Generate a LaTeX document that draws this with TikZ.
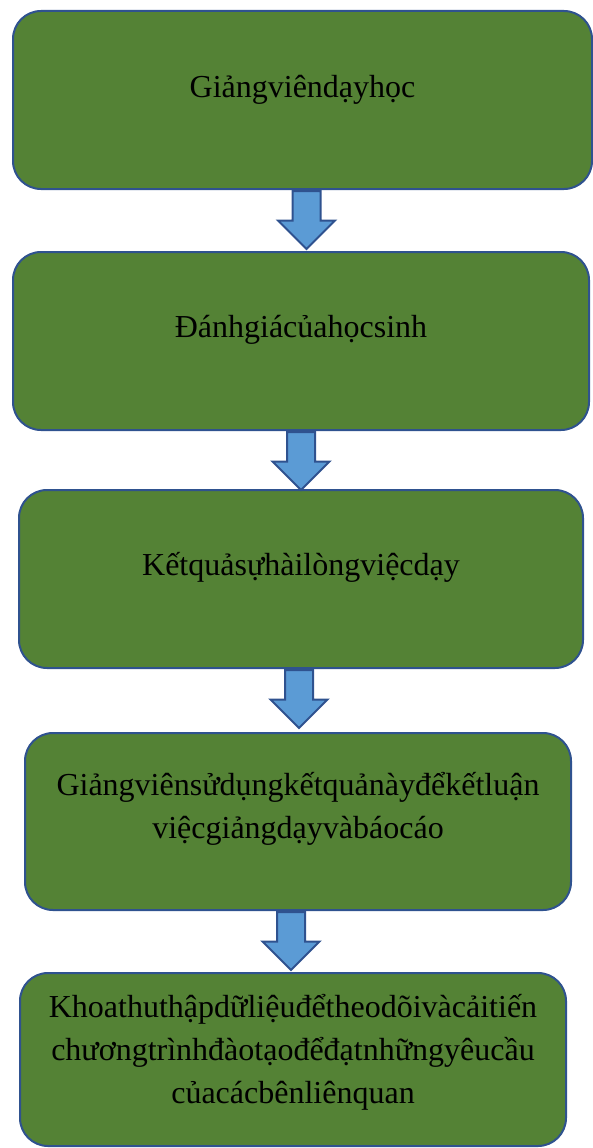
\documentclass[tikz,border=0pt]{standalone}
\usepackage{fontspec}
\setmainfont{Liberation Serif}
\usetikzlibrary{
  positioning,
  shapes.arrows,
  calc
}
\definecolor{stagegreen}{HTML}{548235}
\definecolor{stageblue}{HTML}{2F528F}
\definecolor{arrowblue}{HTML}{5B9BD5}

\begin{document}
\begin{tikzpicture}[x=1pt, y=-1pt, every node/.style={font=\fontsize{32}{43}\selectfont}, align=center,
  stage/.style={draw=stageblue, line width=2pt, fill=stagegreen, rounded corners=28pt, minimum height=178pt, inner sep=0pt},
  stagetext/.style={anchor=base, text=black},
  downarrow/.style={single arrow, draw=stageblue, line width=2pt, fill=arrowblue, shape border rotate=270,
    minimum width=55pt, minimum height=58pt, single arrow head extend=14.5pt, inner sep=13pt, anchor=tail}
]
\useasboundingbox (0,0) rectangle (592,1148);

% Stages
\node[stage, minimum width=579pt] (s1) at (302.5,100) {};
\node[stage, minimum width=576pt] (s2) at (301,341) {};
\node[stage, minimum width=564pt] (s3) at (301,579) {};
\node[stage, minimum width=546pt, minimum height=177pt] (s4) at (298,821.5) {};
\node[stage, minimum width=546pt, minimum height=173pt] (s5) at (293,1059.5) {};

% Texts (base = last line)
\node[stagetext] (t1) at ($(s1.center)+(0,-3)$) {Giảngviêndạyhọc};
\node[stagetext] (t2) at ($(s2.center)+(0,-4)$) {Đánhgiácủahọcsinh};
\node[stagetext] (t3) at ($(s3.center)+(0,-4)$) {Kếtquảsựhàilòngviệcdạy};
\node[stagetext] (t4) at ($(s4.center)+(0,16.5)$) {Giảngviênsửdụngkếtquảnàyđểkếtluận\\việcgiảngdạyvàbáocáo};
\node[stagetext] (t5) at ($(s5.center)+(0,43.5)$) {Khoathuthậpdữliệuđểtheodõivàcảitiến\\chươngtrìnhđàotạođểđạtnhữngyêucầu\\củacácbênliênquan};

% Arrows
\path (s1.south) -- node[downarrow, pos=0, xshift=4pt] (a1) {} (s2.north);
\path (s2.south) -- node[downarrow, pos=0] (a2) {} (s3.north);
\path (s3.south) -- node[downarrow, pos=0, xshift=-2pt] (a3) {} (s4.north);
\path (s4.south) -- node[downarrow, pos=0, xshift=-7pt] (a4) {} (s5.north);

\end{tikzpicture}
\end{document}
